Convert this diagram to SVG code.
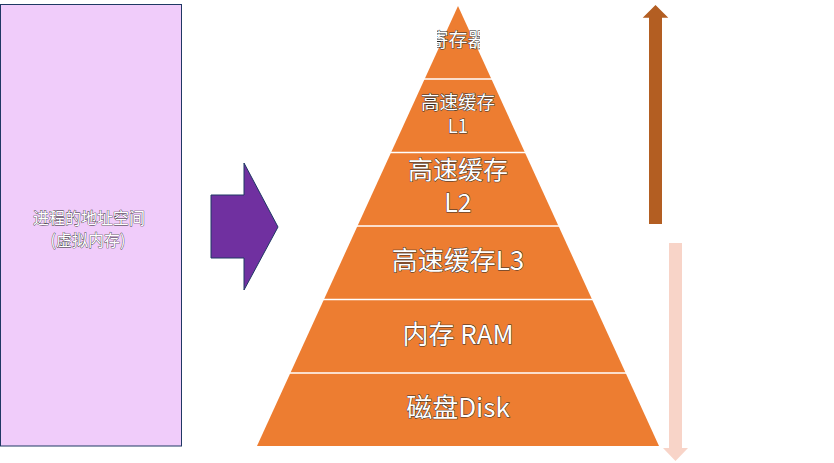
<svg xmlns="http://www.w3.org/2000/svg" width="834" height="463" viewBox="0 0 834 463">
<defs>
<style>
.t{font-family:"Noto Sans CJK SC","Noto Sans",sans-serif;fill:#fff;stroke:#2a2a2a;stroke-width:0.9;paint-order:stroke;text-anchor:middle}
.s{stroke-width:0.7;stroke:#2a2a2a}
.band{fill:#ED7D31}
.div{stroke:#fff;stroke-width:1.5}
</style>
<clipPath id="topclip"><rect x="437" y="20" width="43" height="45"/></clipPath>
</defs>
<rect width="834" height="463" fill="#fff"/>
<g id="address-space">
<rect x="0.5" y="4.5" width="181" height="441.5" fill="#F0CCFA" stroke="#1F3864" stroke-width="1"/>
<text class="t s" x="89" y="224" font-size="16">进程的地址空间</text>
<text class="t s" x="88" y="246" font-size="16">(虚拟内存)</text>
</g>
<g id="pyramid">
<polygon class="band" points="458,6 659,446 257,446"/>
<line class="div" x1="420" y1="79" x2="496" y2="79"/>
<line class="div" x1="386" y1="152.5" x2="530" y2="152.5"/>
<line class="div" x1="353" y1="226" x2="563" y2="226"/>
<line class="div" x1="319" y1="299.5" x2="597" y2="299.5"/>
<line class="div" x1="286" y1="373" x2="630" y2="373"/>
</g>
<g id="registers"><text class="t" x="458" y="47" font-size="19" clip-path="url(#topclip)">寄存器</text></g>
<g id="cache-l1"><text class="t" x="458" y="109" font-size="18.5">高速缓存</text><text class="t" x="458" y="133" font-size="18.5">L1</text></g>
<g id="cache-l2"><text class="t" x="458" y="179" font-size="25">高速缓存</text><text class="t" x="458" y="212" font-size="25">L2</text></g>
<g id="cache-l3"><text class="t" x="458" y="270" font-size="26">高速缓存L3</text></g>
<g id="ram"><text class="t" x="458" y="344" font-size="26">内存 RAM</text></g>
<g id="disk"><text class="t" x="458" y="417" font-size="26">磁盘Disk</text></g>
<g id="connectors">
<polygon points="211,195 244,195 244,163 278,227 244,290 244,258 211,258" fill="#7030A0" stroke="#1F3864" stroke-width="1"/>
<polygon points="649,224 649,17.7 642.7,17.7 655.5,5 668.3,17.7 662,17.7 662,224" fill="#B35E22"/>
<polygon points="669,243 682,243 682,448 688,448 675.5,461 663,448 669,448" fill="#F8D4C8"/>
</g>
</svg>
